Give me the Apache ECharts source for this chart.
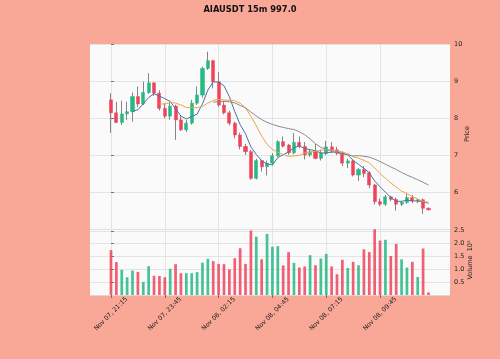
<!DOCTYPE html>
<html><head><meta charset="utf-8">
<script src="https://cdn.jsdelivr.net/npm/echarts@6/dist/echarts.min.js"></script>
<style>html,body{margin:0;padding:0;background:#f9a797}#c{width:500px;height:359px}</style>
</head><body><div id="c"></div>
<script>
const titleText = 'AIAUSDT 15m 997.0';
const tickIdx = [0, 10, 20, 30, 40, 50];
const tickLabels = ['Nov 07, 21:15', 'Nov 07, 23:45', 'Nov 08, 02:15', 'Nov 08, 04:45', 'Nov 08, 07:15', 'Nov 08, 09:45'];
const opens = [8.49,8.14,7.88,8.11,8.17,8.58,8.38,8.69,8.95,8.67,8.26,8.05,8.32,7.95,7.68,7.86,8.40,8.62,9.34,9.55,
  8.98,8.35,8.14,7.86,7.54,7.23,7.09,6.37,6.85,6.68,6.78,6.98,7.36,7.27,7.06,7.34,7.23,7.00,7.10,6.91,
  7.04,7.22,7.14,7.05,6.78,6.84,6.46,6.61,6.52,6.19,5.74,5.67,5.87,5.80,5.67,5.72,5.85,5.76,5.79,5.56];
const highs = [8.67,8.44,8.47,8.44,8.69,8.85,8.98,9.21,8.97,8.75,8.40,8.44,8.36,8.05,7.95,8.49,8.85,9.39,9.79,9.57,
  9.24,8.45,8.20,7.90,7.60,7.30,7.14,6.90,6.87,6.85,7.05,7.40,7.50,7.30,7.59,7.50,7.35,7.15,7.30,7.15,
  7.38,7.35,7.22,7.10,6.90,6.88,6.65,6.70,6.56,6.22,5.82,5.92,5.90,5.85,5.76,5.95,5.92,5.82,5.82,5.58];
const lows = [7.60,7.86,7.81,7.95,7.90,8.30,8.35,8.65,8.60,8.20,7.99,7.95,7.41,7.65,7.62,7.82,8.35,8.55,9.30,8.80,
  8.30,8.10,7.80,7.45,7.15,7.00,6.33,6.34,6.55,6.45,6.72,6.95,7.20,7.00,7.02,7.18,6.88,6.95,6.88,6.85,
  7.00,7.05,7.00,6.70,6.65,6.42,6.30,6.40,6.10,5.66,5.62,5.62,5.75,5.50,5.62,5.68,5.70,5.70,5.41,5.50];
const closes = [8.14,7.88,8.11,8.17,8.58,8.38,8.69,8.95,8.67,8.26,8.05,8.32,7.95,7.68,7.86,8.40,8.62,9.34,9.55,8.98,
  8.35,8.14,7.86,7.54,7.23,7.09,6.37,6.85,6.68,6.78,6.98,7.36,7.24,7.06,7.34,7.23,7.00,7.09,6.91,7.05,
  7.22,7.14,7.05,6.78,6.84,6.46,6.61,6.50,6.19,5.74,5.67,5.87,5.80,5.67,5.72,5.85,5.76,5.79,5.56,5.52];
const volumes = [1.75,1.28,0.98,0.69,0.95,0.90,0.51,1.12,0.75,0.74,0.69,1.02,1.20,0.85,0.85,0.85,0.89,1.26,1.41,1.32,
  1.21,1.20,1.00,1.43,1.82,1.21,2.51,2.27,1.39,2.38,1.88,1.90,1.15,1.67,1.25,1.07,1.11,1.55,1.16,1.42,
  1.60,1.11,0.81,1.37,1.05,1.29,1.16,1.78,1.67,2.56,2.12,2.15,1.52,1.99,1.39,1.07,1.29,0.70,1.81,0.10];
const maWindows = [5, 10, 20];
const maColors = ['#4a73a3', '#f2a24a', '#8c8c8c'];
const upColor = '#26b984', downColor = '#f0435a', wickColor = '#858585';

function sma(w) {
  const out = [];
  for (let i = w - 1; i < closes.length; i++) {
    let s = 0;
    for (let k = i - w + 1; k <= i; k++) s += closes[k];
    out.push([i, s / w]);
  }
  return out;
}

const n = closes.length;
const wickData = [], bodyData = [], volData = [];
for (let i = 0; i < n; i++) {
  wickData.push([i, opens[i], closes[i], lows[i], highs[i]]);
  bodyData.push([i, opens[i], closes[i], Math.min(opens[i], closes[i]), Math.max(opens[i], closes[i])]);
  volData.push({ value: [i, volumes[i]], itemStyle: { color: closes[i] >= opens[i] ? upColor : downColor, opacity: 0.85 } });
}

const font = 'DejaVu Sans';
const gridLine = { show: true, lineStyle: { color: '#dedede', width: 0.8 } };
const xCommon = { type: 'value', min: -3.9, max: 63.0, axisLine: { show: false }, splitLine: gridLine };

const chart = echarts.init(document.getElementById('c'));
chart.setOption({
  backgroundColor: '#f9a797',
  animation: false,
  title: { text: titleText, left: 'center', top: 1, textStyle: { fontSize: 8.3, fontWeight: 'bold', fontFamily: font, color: '#111' } },
  grid: [
    { left: 90, top: 44, width: 360, height: 185, show: true, backgroundColor: '#fafafa', borderWidth: 0 },
    { left: 90, top: 229, width: 360, height: 66, show: true, backgroundColor: '#fafafa', borderWidth: 0 }
  ],
  xAxis: [
    Object.assign({}, xCommon, { gridIndex: 0, axisTick: { show: false, customValues: tickIdx }, axisLabel: { show: false, customValues: tickIdx } }),
    Object.assign({}, xCommon, { gridIndex: 1,
      axisTick: { show: true, length: 3, customValues: tickIdx, lineStyle: { color: '#555', width: 0.8 } },
      axisLabel: { show: true, customValues: tickIdx, rotate: 45, align: 'center', verticalAlign: 'middle', margin: 19,
        fontSize: 6.3, fontFamily: font, color: '#222', formatter: v => tickLabels[tickIdx.indexOf(Math.round(v))] || '' } })
  ],
  yAxis: [
    { type: 'value', gridIndex: 0, position: 'right', min: 5, max: 10, interval: 1,
      axisLine: { show: false }, splitLine: gridLine,
      axisTick: { show: true, length: 3, lineStyle: { color: '#555', width: 0.8 } },
      axisLabel: { showMinLabel: false, margin: 4, fontSize: 6.5, fontFamily: font, color: '#222' } },
    { type: 'value', gridIndex: 1, position: 'right', min: 0, max: 2.57, interval: 0.5,
      axisLine: { show: false }, splitLine: gridLine,
      axisTick: { show: true, length: 3, lineStyle: { color: '#555', width: 0.8 } },
      axisLabel: { showMinLabel: false, showMaxLabel: false, margin: 4, fontSize: 6.5, fontFamily: font, color: '#222', formatter: v => v.toFixed(1) } }
  ],
  graphic: [
    { type: 'text', x: 467, y: 134, rotation: Math.PI / 2, style: { text: 'Price', fontSize: 6.5, fontFamily: font, fill: '#222', align: 'center', verticalAlign: 'middle' } },
    { type: 'text', x: 470, y: 260, rotation: Math.PI / 2, style: { text: 'Volume  10\u2075', fontSize: 6.5, fontFamily: font, fill: '#222', align: 'center', verticalAlign: 'middle' } }
  ],
  series: [
    { type: 'candlestick', xAxisIndex: 0, yAxisIndex: 0, data: wickData, encode: { x: 0, y: [1, 2, 3, 4] }, barWidth: 1,
      itemStyle: { color: wickColor, color0: wickColor, borderColor: wickColor, borderColor0: wickColor, borderWidth: 1 } },
    { type: 'candlestick', xAxisIndex: 0, yAxisIndex: 0, data: bodyData, encode: { x: 0, y: [1, 2, 3, 4] }, barWidth: 3.6,
      itemStyle: { color: upColor, color0: downColor, borderColor: upColor, borderColor0: downColor, borderWidth: 0.5 } },
  ].concat(maWindows.map((w, k) => ({
    type: 'line', xAxisIndex: 0, yAxisIndex: 0, data: sma(w), showSymbol: false, symbol: 'none', smooth: false,
    lineStyle: { color: maColors[k], width: 1 }, z: 3
  }))).concat([
    { type: 'bar', xAxisIndex: 1, yAxisIndex: 1, data: volData, barWidth: 2.7 }
  ])
});
</script></body></html>
